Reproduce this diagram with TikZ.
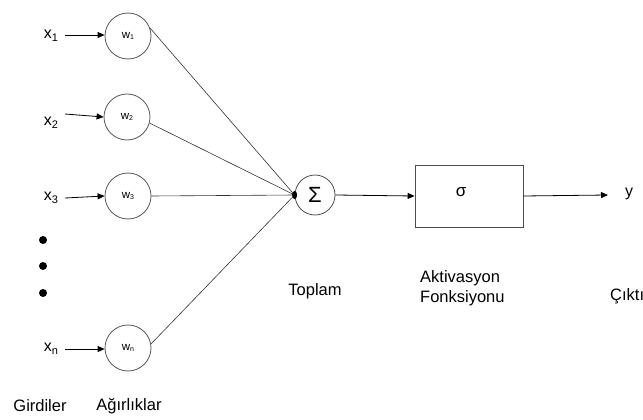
\documentclass[tikz,border=0pt]{standalone}
\usepackage{fontspec}
\setmainfont{Liberation Sans}
\usetikzlibrary{arrows.meta}
\newcommand{\sub}[1]{{\fontsize{11}{11}\selectfont\raisebox{-3.5pt}{#1}}}
\newcommand{\wsub}[1]{{\fontsize{7}{7}\selectfont\raisebox{-1.5pt}{#1}}}
\begin{document}
\begin{tikzpicture}[x=1pt,y=-1pt,
  wt/.style={circle,draw=black!65,line width=0.8pt,minimum size=46pt,inner sep=0pt,
             font=\fontsize{11.5}{11.5}\selectfont},
  sumnode/.style={circle,draw=black!70,line width=0.8pt,minimum size=40pt,inner sep=0pt},
  actbox/.style={draw=black!70,line width=0.8pt,minimum width=108pt,minimum height=62pt,inner sep=0pt},
  inlabel/.style={font=\fontsize{16}{16}\selectfont,inner sep=0pt},
  caption/.style={font=\fontsize{16.5}{20}\selectfont,inner sep=0pt,align=left},
  feed/.style={line width=0.8pt,-{Triangle[length=7pt,width=6pt]}},
  link/.style={line width=0.6pt,draw=black!80},
  dot/.style={circle,fill=black,inner sep=0pt,minimum size=8pt}]
\useasboundingbox (0,0) rectangle (643,420);

% inputs
\node[inlabel] (x1) at (51,36) {x\sub{1}};
\node[inlabel] (x2) at (51,123) {x\sub{2}};
\node[inlabel] (x3) at (51,198) {x\sub{3}};
\node[inlabel] (xn) at (51,349) {x\sub{n}};
\node[dot] (d1) at (43,240) {};
\node[dot] (d2) at (43,266) {};
\node[dot] (d3) at (43,293) {};

% weights
\node[wt] (w1) at (128,36) {w\wsub{1}};
\node[wt] (w2) at (127,117) {w\wsub{2}};
\node[wt] (w3) at (128,196) {w\wsub{3}};
\node[wt] (wn) at (128,348) {w\wsub{n}};

\coordinate (x1e) at (65,35);
\coordinate (x2e) at (65,114);
\coordinate (x3e) at (65,198);
\coordinate (xne) at (65,349);
\draw[feed] (x1e) -- (w1.west |- x1e);
\draw[feed] (x2e) -- (w2.west);
\draw[feed] (x3e) -- (w3.west);
\draw[feed] (xne) -- (wn.west |- xne);

% summation
\node[sumnode] (sum) at (315,195) {\fontsize{22}{22}\selectfont\raisebox{-1pt}{Σ}};
\coordinate (join) at (sum.west);
\draw[link] (w1.20) -- (join);
\draw[link] (w2.-15) -- (join);
\draw[link] (w3.east) -- (join);
\draw[link] (wn.10) -- (join);
\fill (join) ellipse (2.5pt and 4pt);

% activation
\node[actbox] (act) at (469,196) {};
\node[font=\fontsize{17}{17}\selectfont] (sig) at (461,192) {σ};
\draw[feed] (sum.east) -- (act.west);

% output
\node[inlabel] (y) at (629,194) {y};
\coordinate (ye) at (608,195);
\draw[feed] (act.east) -- (ye);

% captions
\node[caption] (c1) at (315,291) {Toplam};
\node[caption,anchor=west] (c2) at (420,288) {Aktivasyon\\Fonksiyonu};
\node[caption,anchor=west] (c3) at (610,296) {Çıktı};
\node[caption] (c4) at (40,406) {Girdiler};
\node[caption] (c5) at (129,406) {Ağırlıklar};
\end{tikzpicture}
\end{document}
